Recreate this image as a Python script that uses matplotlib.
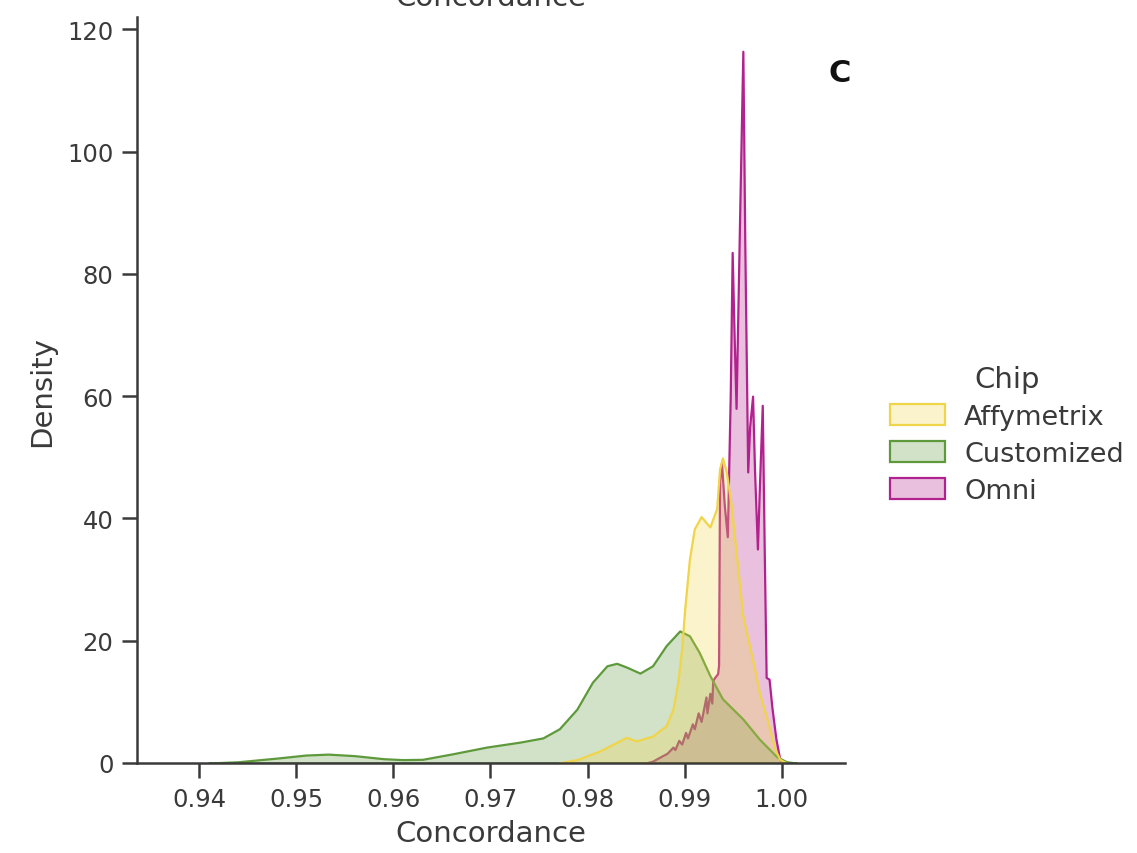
import matplotlib
matplotlib.use("Agg")
import matplotlib.pyplot as plt
from matplotlib.patches import Patch
from matplotlib.colors import to_rgba

# ---- data (density curves) ----
chips = ["Affymetrix", "Customized", "Omni"]

affy_x = [0.9770, 0.9790, 0.9813, 0.9840, 0.9850, 0.9867, 0.9881, 0.9888, 0.9893,
          0.9897, 0.9900, 0.9905, 0.9910, 0.9917, 0.9926, 0.9933, 0.9936, 0.9939,
          0.9943, 0.9948, 0.9953, 0.9960, 0.9972, 0.9977, 0.9984, 0.9993, 0.9998, 1.0005]
affy_y = [0.0, 0.6, 2.0, 4.2, 3.6, 4.4, 6.1, 8.8, 13.2,
          18.7, 25.0, 33.4, 38.3, 40.3, 38.6, 41.6, 48.1, 49.9,
          47.6, 42.1, 34.5, 24.0, 15.5, 11.5, 7.7, 2.3, 0.6, 0.0]

cust_x = [0.9410, 0.9440, 0.9480, 0.9510, 0.9533, 0.9560, 0.9590, 0.9610, 0.9630,
          0.9661, 0.9696, 0.9730, 0.9754, 0.9771, 0.9789, 0.9805, 0.9820, 0.9830,
          0.9840, 0.9854, 0.9867, 0.9881, 0.9895, 0.9905, 0.9915, 0.9926, 0.9939,
          0.9960, 0.9977, 0.9995, 1.0005, 1.0015]
cust_y = [0.0, 0.2, 0.8, 1.3, 1.45, 1.2, 0.7, 0.55, 0.6,
          1.5, 2.6, 3.4, 4.1, 5.6, 8.8, 13.2, 15.9, 16.3,
          15.7, 14.7, 15.9, 19.2, 21.6, 20.8, 18.1, 14.3, 10.5,
          7.2, 3.9, 1.0, 0.2, 0.0]

omni_x = [0.9860, 0.9867, 0.9875, 0.9882, 0.9888, 0.9890, 0.9894, 0.9897, 0.9901,
          0.9903, 0.9908, 0.9910, 0.9914, 0.9917, 0.9922, 0.9923, 0.9926, 0.9928,
          0.9929, 0.9931, 0.9934, 0.9935, 0.9936, 0.9938, 0.9941, 0.9944, 0.9947,
          0.9949, 0.9951, 0.9953, 0.9957, 0.9960, 0.9962, 0.9965, 0.9967, 0.9970,
          0.9972, 0.9975, 0.9977, 0.9980, 0.9982, 0.9984, 0.9987, 0.9990, 0.9994,
          0.9998, 1.0001]
omni_y = [0.0, 0.3, 1.0, 1.6, 2.6, 2.2, 3.7, 3.1, 5.0,
          4.1, 6.4, 5.6, 8.2, 6.8, 10.8, 8.2, 11.4, 9.8,
          13.5, 14.0, 14.6, 16.0, 46.0, 49.0, 42.0, 37.0, 60.0,
          83.5, 70.0, 58.0, 92.0, 116.4, 85.0, 47.6, 55.0, 60.0,
          48.0, 35.0, 45.0, 58.5, 35.0, 14.0, 13.7, 9.0, 4.0,
          0.6, 0.0]

x_ticks = [0.94, 0.95, 0.96, 0.97, 0.98, 0.99, 1.00]
y_ticks = [0, 20, 40, 60, 80, 100, 120]

colors = {"Affymetrix": "#f0d449", "Customized": "#5e9a3c", "Omni": "#b2228e"}
fill_alpha = 0.28

series = {
    "Affymetrix": (affy_x, affy_y),
    "Customized": (cust_x, cust_y),
    "Omni": (omni_x, omni_y),
}

plt.rcParams["font.family"] = ["DejaVu Sans"]
fig = plt.figure(figsize=(11.37, 8.54), dpi=100)
ax = fig.add_axes([0.1205, 0.1054, 0.6225, 0.8735])

# draw in reverse order so the first hue is on top
for name in reversed(chips):
    xs, ys = series[name]
    c = colors[name]
    ax.fill_between(xs, ys, 0, facecolor=to_rgba(c, fill_alpha),
                    edgecolor=to_rgba(c, 1.0), linewidth=1.6)

ax.set_xlim(0.9336, 1.0065)
ax.set_ylim(0, 122)
ax.set_xticks(x_ticks)
ax.set_xticklabels([f"{t:.2f}" for t in x_ticks])
ax.set_yticks(y_ticks)

text_col = "#3a3a3a"
ax.tick_params(axis="both", labelsize=17.5, length=11, width=1.8,
               colors="#3a3a3a", labelcolor=text_col, pad=6)
for s in ["top", "right"]:
    ax.spines[s].set_visible(False)
for s in ["left", "bottom"]:
    ax.spines[s].set_linewidth(1.8)
    ax.spines[s].set_color("#3a3a3a")

ax.set_xlabel("Concordance", fontsize=21, color=text_col, labelpad=6)
ax.set_ylabel("Density", fontsize=21, color=text_col, labelpad=8)
ax.text(0.5, 1.016, "Concordance", transform=ax.transAxes, ha="center",
        va="baseline", fontsize=21, color=text_col)

fig.text(840 / 1137, 1 - 73 / 854, "C", fontsize=22, fontweight="bold",
         ha="center", va="center", color="#111111")

handles = [Patch(facecolor=to_rgba(colors[n], fill_alpha),
                 edgecolor=colors[n], linewidth=1.6, label=n) for n in chips]
leg = fig.legend(handles=handles, title="Chip", loc="center left",
                 bbox_to_anchor=(0.761, 0.49), frameon=False, fontsize=19.5,
                 title_fontsize=21, handlelength=2.05, handleheight=0.8,
                 handletextpad=0.7, labelspacing=0.4)
for t in leg.get_texts():
    t.set_color(text_col)
leg.get_title().set_color(text_col)

fig.savefig("out.png", dpi=100)
